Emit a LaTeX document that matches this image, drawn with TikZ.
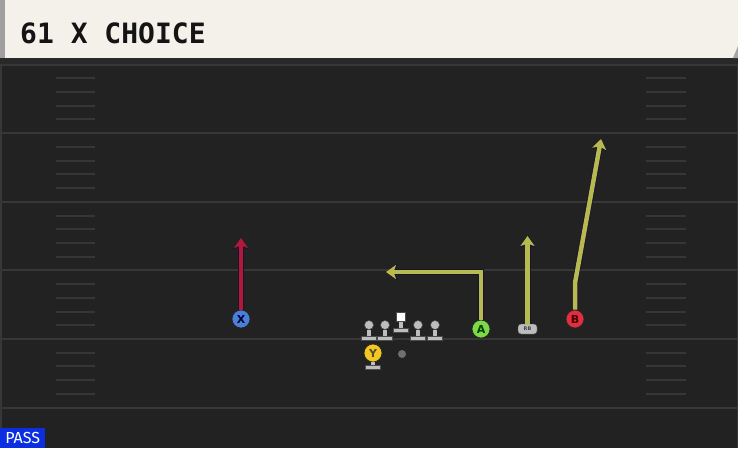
\documentclass[tikz,border=0pt]{standalone}
\usepackage{fontspec}
\setmainfont{DejaVu Sans}
\newfontfamily\titlefont{DejaVu Sans Mono}
\newfontfamily\tagfont{Fira Sans}
\usetikzlibrary{arrows.meta,positioning}
\definecolor{fieldbg}{HTML}{222222}
\definecolor{fieldline}{HTML}{373737}
\definecolor{hashline}{HTML}{363636}
\definecolor{headerbg}{HTML}{F4F1EA}
\definecolor{titleink}{HTML}{141414}
\definecolor{routeyel}{HTML}{B9B951}
\definecolor{routered}{HTML}{B3173B}
\definecolor{routeedge}{HTML}{15152B}
\definecolor{xblue}{HTML}{4A80DA}
\definecolor{agreen}{HTML}{7DD945}
\definecolor{bred}{HTML}{E02F3E}
\definecolor{yyellow}{HTML}{F2C81E}
\definecolor{linegray}{HTML}{BDBDBD}
\definecolor{passblue}{HTML}{0B2FE0}
\tikzstyle{yardline} = [draw, line width=2pt, color=fieldline]
\tikzstyle{hash} = [draw, line width=2pt, color=hashline]
\tikzstyle{player} = [circle, draw=black!85, line width=0.7pt, minimum size=18pt, inner sep=0pt, font=\bfseries\fontsize{11}{11}\selectfont]
\tikzstyle{head} = [circle, draw=black!70, fill=linegray, line width=0.5pt, minimum size=9pt, inner sep=0pt]
\tikzstyle{snapper} = [rectangle, draw=black!70, fill=white, line width=0.5pt, minimum size=9pt, inner sep=0pt]
\tikzstyle{stand} = [rectangle, draw=black!70, fill=linegray, line width=0.5pt, minimum width=15pt, minimum height=4pt, inner sep=0pt]
\tikzstyle{stem} = [draw, line width=4pt, color=linegray]
\tikzstyle{rbback} = [rectangle, draw=black!70, fill=linegray, rounded corners=3pt, minimum width=19pt, minimum height=10pt, inner sep=0pt, text=black!75, font=\bfseries\fontsize{5}{5}\selectfont]
\tikzstyle{route} = [draw, line width=4.5pt, color=routeyel, line join=miter, -{Stealth[length=10pt,width=14pt,inset=2.5pt]}, preaction={draw=routeedge, line width=6pt, -{Stealth[length=11.5pt,width=16pt,inset=3pt]}}]
\tikzstyle{hotroute} = [route, color=routered]
\newcommand{\lineman}[4]{%
\node[#2] (#1) at (#3,#4) {};
\node[stand] (#1s) at (#3,#4+13) {};
\path[stem] (#1.south) -- (#1s.north);
}
\begin{document}
\begin{tikzpicture}[x=1pt,y=-1pt]
\useasboundingbox (0,0) rectangle (738,448);
% Field
\fill[fieldbg] (0,0) rectangle (738,448);
\fill[black!84] (0,58) rectangle (738,64);
\foreach \k in {0,...,5}
  \path[yardline] (0,{64.6+68.6*\k}) -- (738,{64.6+68.6*\k});
\foreach \k in {0,...,4}
  \foreach \j in {1,...,4} {
    \path[hash] (56,{64.6+68.6*\k+13.72*\j}) -- (95,{64.6+68.6*\k+13.72*\j});
    \path[hash] (646,{64.6+68.6*\k+13.72*\j}) -- (686,{64.6+68.6*\k+13.72*\j});
  }
\path[draw=fieldline, line width=1.5pt] (0.75,64) -- (0.75,448);
\path[draw=fieldline, line width=1.5pt] (737.25,64) -- (737.25,448);
% Header
\fill[headerbg] (0,0) rectangle (738,58);
\fill[gray!75] (0,0) rectangle (5,58);
\fill[gray!70] (733,58) -- (738,46) -- (738,58) -- cycle;
\node[anchor=base west, inner sep=0pt, text=titleink, font=\bfseries\titlefont\fontsize{28}{28}\selectfont] (title) at (20,43) {61 X CHOICE};

% Line
\lineman{lt}{head}{369}{325}
\lineman{lg}{head}{385}{325}
\lineman{ce}{snapper}{401}{317}
\lineman{rg}{head}{418}{325}
\lineman{rt}{head}{435}{325}
\node[circle, fill=gray!75!black!90!white, minimum size=8pt, inner sep=0pt] (qb) at (402,354) {};

% Players
\node[stand] (pys) at (373,367) {};
\node[player, fill=yyellow, text=black!80!yellow] (py) at (373,353) {Y};
\path[stem] (py.south) -- (pys.north);
\node[player, fill=xblue, text=black!80!blue] (px) at (241,319) {X};
\node[player, fill=agreen, text=black!75!green] (pa) at (481,329) {A};
\node[rbback] (prb) at (527.5,329) {RB};
\node[player, fill=bred, text=black!70!red] (pb) at (575,319) {B};

% Routes
\coordinate (xtip) at (241,238);
\path[hotroute] (px.north) -- (xtip);
\coordinate (abreak) at (481,272);
\coordinate (atip) at (386,272);
\path[route] (pa.north) -- (abreak) -- (atip);
\coordinate (rbtip) at (527.5,236);
\path[route] (prb.north) -- (rbtip);
\coordinate (bbreak) at (575,283);
\coordinate (btip) at (601,139);
\path[route] (pb.north) -- (bbreak) -- (btip);

% Play type
\node[anchor=south west, fill=passblue, text=white, minimum width=45pt, minimum height=20pt, inner sep=0pt, font=\tagfont\fontsize{16}{16}\selectfont] (tag) at (0,448) {PASS};
\end{tikzpicture}
\end{document}
